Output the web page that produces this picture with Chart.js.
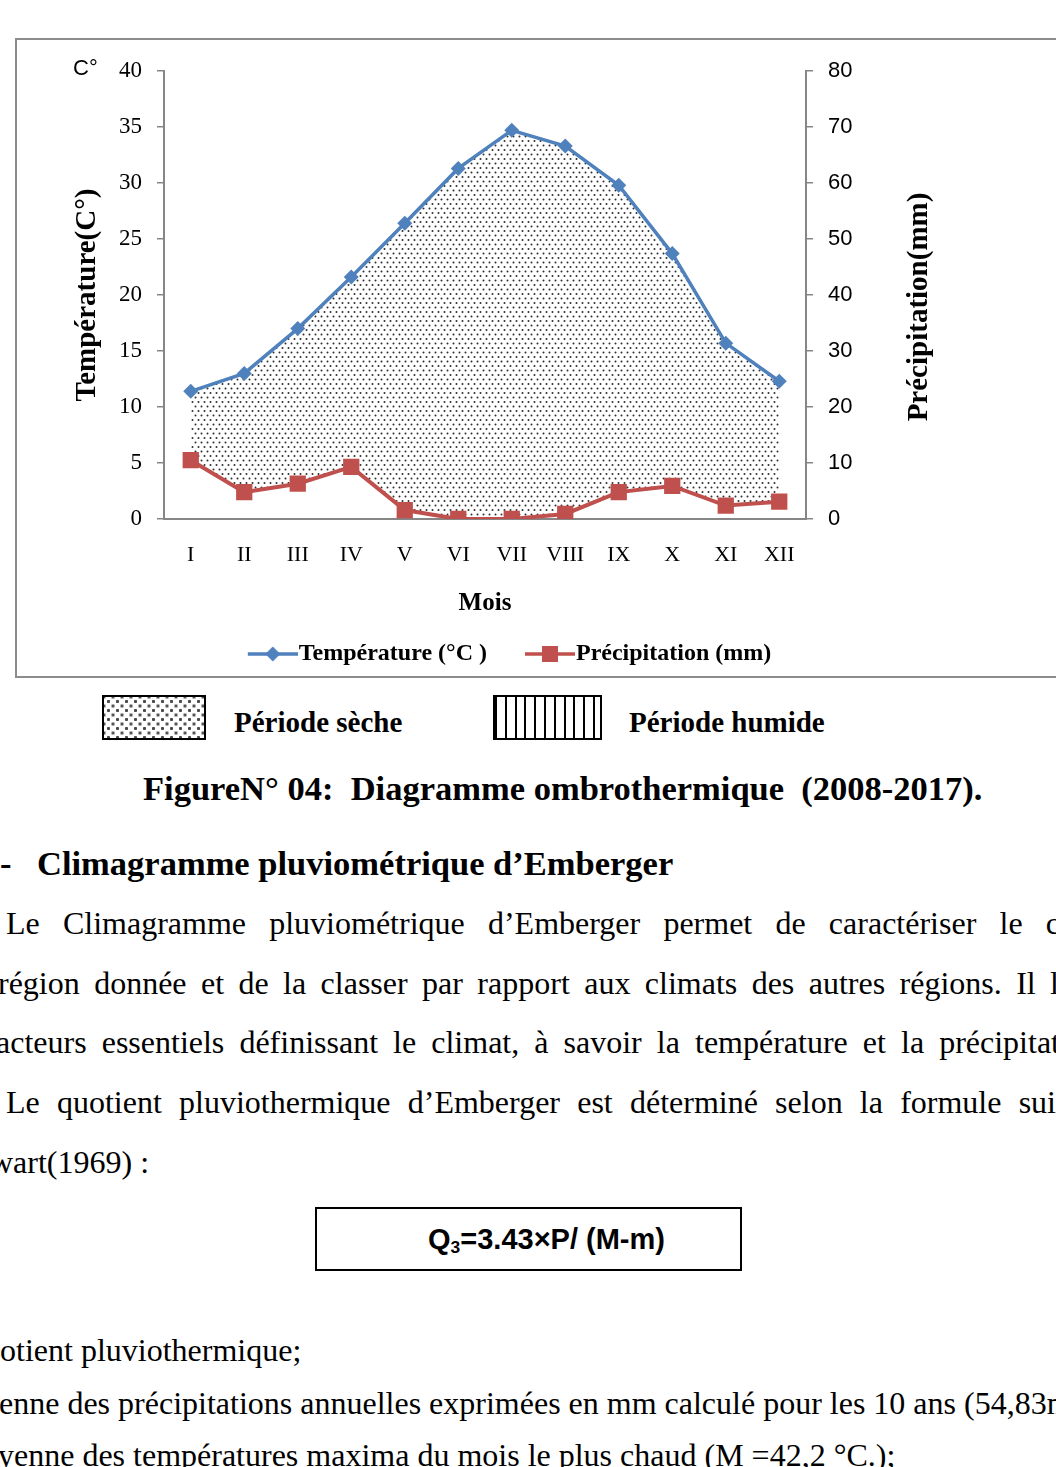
<!DOCTYPE html>
<html lang="fr">
<head>
<meta charset="utf-8">
<title>Diagramme ombrothermique (2008-2017)</title>
<script src="https://cdn.jsdelivr.net/npm/chart.js@4.4.1/dist/chart.umd.min.js"></script>
<style>
  html, body { margin: 0; padding: 0; width: 1056px; height: 1467px; overflow: hidden; background: #fff; }
  body { position: relative; font-family: "Liberation Serif", "Times New Roman", serif; color: #000; }
  #frame { position: absolute; left: 15px; top: 38px; width: 1100px; height: 636px; border: 2px solid #8c8c8c; }
  #chartBox { position: absolute; left: 0; top: 0; width: 1039px; height: 636px; }
  .t { position: absolute; white-space: pre; line-height: 1; }
  .swatch { position: absolute; top: 695px; height: 41px; border: 2px solid #000; }
  #dry { left: 102px; width: 100px;
    background-image: radial-gradient(circle, #4a4a4a 0 1.3px, transparent 1.9px), radial-gradient(circle, #4a4a4a 0 1.3px, transparent 1.9px);
    background-size: 9px 9px; background-position: 0 0, 4.5px 4.5px; }
  #wet { left: 493px; width: 105px;
    background-image: repeating-linear-gradient(90deg, #000 0 2px, transparent 2px 9.8px); }
  #formula { position: absolute; box-sizing: border-box; left: 315px; top: 1207px; width: 427px; height: 64px;
    border: 2px solid #000; padding-left: 36px;
    display: flex; align-items: center; justify-content: center;
    font-family: "Liberation Sans", Arial, sans-serif; font-weight: bold; font-size: 29px; }
  #formula sub { font-size: 60%; vertical-align: -0.25em; line-height: 0; }
</style>
</head>
<body>
<div id="frame"><div id="chartBox"><canvas id="ombroChart"></canvas></div></div>
<div class="swatch" id="dry"></div>
<div class="swatch" id="wet"></div>
<div id="formula"><span>Q<sub>3</sub>=3.43×P/ (M-m)</span></div>

<script>
//---------------------------------------------- DATA ---------------------------------------------------
const months = ["I", "II", "III", "IV", "V", "VI", "VII", "VIII", "IX", "X", "XI", "XII"];
const temperature = [11.4, 13.0, 17.0, 21.6, 26.4, 31.3, 34.7, 33.3, 29.8, 23.7, 15.7, 12.3]; // °C
const precipitation = [10.5, 4.8, 6.3, 9.3, 1.6, 0, 0, 0.9, 4.8, 5.9, 2.4, 3.1]; // mm
const tempRange = [0, 40, 5];
const precRange = [0, 80, 10];

const BLUE = "rgb(79, 129, 189)";
const RED = "rgb(192, 80, 77)";
const AXIS = "#868686";
const SERIF = '"Liberation Serif", "Times New Roman", serif';
const SANS = '"Liberation Sans", Arial, sans-serif';

//---------------------------------------------- PATTERN / LEGEND MARKS ---------------------------------
function dotPattern() {
  const c = document.createElement("canvas");
  c.width = 6;
  c.height = 9;
  const g = c.getContext("2d");
  g.fillStyle = "#2e2e2e";
  [[1.5, 2], [4.5, 6.5]].forEach(([x, y]) => {
    g.beginPath();
    g.arc(x, y, 1.0, 0, Math.PI * 2);
    g.fill();
  });
  return g.createPattern(c, "repeat");
}

function legendMark(color, kind) {
  const c = document.createElement("canvas");
  c.width = 89;
  c.height = 24;
  const g = c.getContext("2d");
  g.strokeStyle = color;
  g.lineWidth = 3.5;
  g.beginPath();
  g.moveTo(39, 12);
  g.lineTo(89, 12);
  g.stroke();
  g.fillStyle = color;
  if (kind === "diamond") {
    g.beginPath();
    g.moveTo(64, 4.5);
    g.lineTo(71.5, 12);
    g.lineTo(64, 19.5);
    g.lineTo(56.5, 12);
    g.closePath();
    g.fill();
  } else {
    g.fillRect(56, 4, 16, 16);
  }
  return c;
}

// right axis title reads bottom-to-top, plus the small "C°" note
const axisNotes = {
  id: "axisNotes",
  afterDraw(chart) {
    const { ctx } = chart;
    const y1 = chart.scales.y1;
    ctx.save();
    ctx.fillStyle = "#000";
    ctx.textAlign = "center";
    ctx.textBaseline = "middle";
    ctx.font = "bold 29px " + SERIF;
    ctx.translate(y1.left + 114, (y1.top + y1.bottom) / 2 + 12);
    ctx.rotate(-Math.PI / 2);
    ctx.fillText("Précipitation(mm)", 0, 0);
    ctx.restore();

    ctx.save();
    ctx.fillStyle = "#000";
    ctx.textAlign = "left";
    ctx.textBaseline = "alphabetic";
    ctx.font = "22px " + SANS;
    ctx.fillText("C°", 56, 35);
    ctx.restore();
  },
};

//---------------------------------------------- CHART ---------------------------------------------------
const ombroCTX = document.getElementById("ombroChart");

const dataOmbro = {
  labels: months,
  datasets: [
    {
      label: "Température (°C )",
      data: temperature,
      yAxisID: "y",
      borderColor: BLUE,
      backgroundColor: dotPattern(), // période sèche
      pointBackgroundColor: BLUE,
      pointBorderWidth: 0,
      pointStyle: "rectRot",
      pointRadius: 7.5,
      borderWidth: 3.5,
      tension: 0,
      fill: 1,
    },
    {
      label: "Précipitation (mm)",
      data: precipitation,
      yAxisID: "y1",
      borderColor: RED,
      backgroundColor: RED,
      pointBackgroundColor: RED,
      pointBorderWidth: 0,
      pointStyle: "rect",
      pointRadius: 11.5,
      borderWidth: 4,
      tension: 0,
      fill: false,
    },
  ],
};

const legendMarks = [legendMark(BLUE, "diamond"), legendMark(RED, "square")];

const configOmbro = {
  type: "line",
  data: dataOmbro,
  options: {
    responsive: true,
    maintainAspectRatio: false,
    animation: false,
    layout: { padding: { top: 31, right: 82, bottom: 0, left: 0 } },
    plugins: {
      filler: { drawTime: "beforeDatasetsDraw" },
      tooltip: { enabled: false },
      legend: {
        display: true,
        position: "bottom",
        labels: {
          color: "#000",
          font: { family: SERIF, size: 24, weight: "bold" },
          usePointStyle: true,
          pointStyleWidth: 67,
          padding: 10,
          generateLabels(chart) {
            return chart.data.datasets.map((ds, i) => ({
              text: ds.label,
              datasetIndex: i,
              pointStyle: legendMarks[i],
              fillStyle: ds.borderColor,
              strokeStyle: ds.borderColor,
              lineWidth: 0,
              fontColor: "#000",
              hidden: false,
            }));
          },
        },
      },
    },
    scales: {
      x: {
        offset: true,
        grid: { display: false, drawTicks: false },
        border: { display: true, color: AXIS, width: 2 },
        ticks: { color: "#000", font: { family: SERIF, size: 22 }, padding: 23 },
        title: {
          display: true,
          text: "Mois",
          color: "#000",
          font: { family: SERIF, size: 25, weight: "bold" },
          padding: { top: 0, bottom: 13 },
        },
        afterFit(scale) { scale.height = 113; },
      },
      y: {
        position: "left",
        min: tempRange[0],
        max: tempRange[1],
        ticks: { stepSize: tempRange[2], color: "#000", font: { family: SERIF, size: 23 }, padding: 15 },
        grid: { drawOnChartArea: false, drawTicks: true, tickLength: 7, color: AXIS, lineWidth: 1.5 },
        border: { display: true, color: AXIS, width: 2 },
        title: {
          display: true,
          text: "Température(C°)",
          color: "#000",
          font: { family: SERIF, size: 29, weight: "bold" },
          padding: { top: 53, bottom: 0 },
        },
        afterFit(scale) { scale.width = 147; },
      },
      y1: {
        position: "right",
        min: precRange[0],
        max: precRange[1],
        ticks: { stepSize: precRange[2], color: "#000", font: { family: SANS, size: 22 }, padding: 15 },
        grid: { drawOnChartArea: false, drawTicks: true, tickLength: 7, color: AXIS, lineWidth: 1.5 },
        border: { display: true, color: AXIS, width: 2 },
        afterFit(scale) { scale.width = 168; },
      },
    },
  },
  plugins: [axisNotes],
};

const ombroChart = new Chart(ombroCTX, configOmbro);

//---------------------------------------------- PAGE TEXT ---------------------------------------------------
const pageLines = [
  { text: "Période sèche", x: 234, base: 732, size: 29, bold: true },
  { text: "Période humide", x: 629, base: 732, size: 29, bold: true },
  { text: "FigureN° 04:  Diagramme ombrothermique  (2008-2017).", x: 143, base: 800, size: 34.5, bold: true },
  { text: "-", x: 0, base: 875, size: 34.5, bold: true },
  { text: "Climagramme pluviométrique d’Emberger", x: 37, base: 875, size: 34.5, bold: true },
  { text: "Le Climagramme pluviométrique d’Emberger permet de caractériser le c", x: 6, right: 1060, base: 934, size: 32 },
  { text: "région donnée et de la classer par rapport aux climats des autres régions. Il l", x: -2, right: 1059, base: 994, size: 32 },
  { text: "acteurs essentiels définissant le climat, à savoir la température et la précipitat", x: -4, right: 1060, base: 1053, size: 32 },
  { text: "Le quotient pluviothermique d’Emberger est déterminé selon la formule sui", x: 6, right: 1056, base: 1113, size: 32 },
  { text: "wart(1969) :", x: -10, base: 1173, size: 32 },
  { text: "otient pluviothermique;", x: 0, base: 1361, size: 32 },
  { text: "enne des précipitations annuelles exprimées en mm calculé pour les 10 ans (54,83m", x: -1, right: 1071, base: 1414, size: 32 },
  { text: "yenne des températures maxima du mois le plus chaud (M =42,2 °C.);", x: -2, base: 1466, size: 32 },
];

pageLines.forEach((l) => {
  const d = document.createElement("div");
  d.className = "t";
  d.textContent = l.text;
  d.style.left = l.x + "px";
  d.style.top = (l.base - 0.8375 * l.size) + "px";
  d.style.fontSize = l.size + "px";
  if (l.bold) d.style.fontWeight = "bold";
  document.body.appendChild(d);
  if (l.right) {
    // justified lines: spread the gap over the spaces
    const gaps = l.text.split(" ").length - 1;
    const extra = (l.right - l.x) - d.getBoundingClientRect().width;
    if (gaps > 0 && extra > 0) d.style.wordSpacing = (extra / gaps) + "px";
  }
});
</script>
</body>
</html>
